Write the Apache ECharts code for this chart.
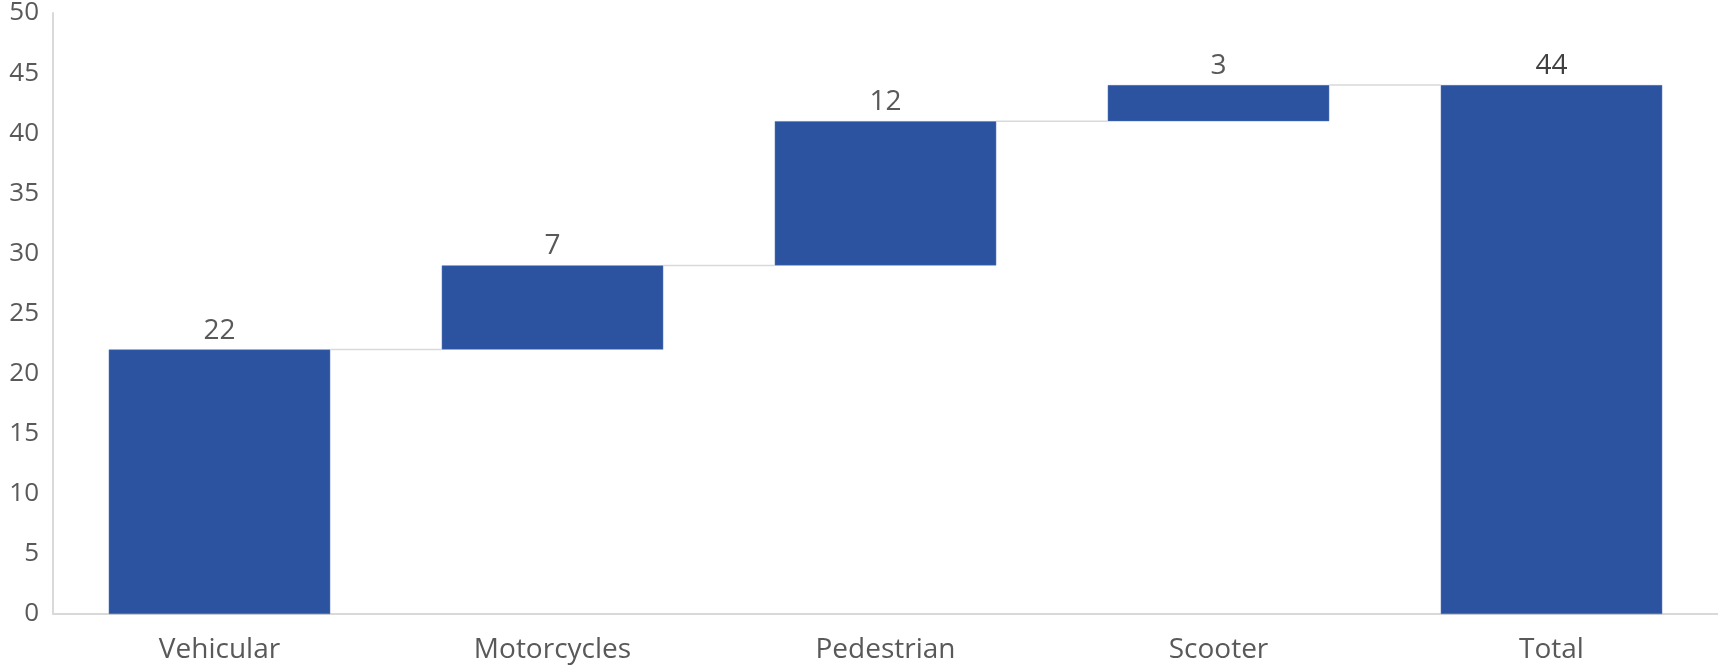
<!DOCTYPE html>
<html>
<head>
<meta charset="utf-8">
<script src="https://cdn.jsdelivr.net/npm/echarts@6/dist/echarts.min.js"></script>
<style>html,body{margin:0;padding:0;background:#fff}#c{width:1718px;height:671px}</style>
</head>
<body>
<div id="c"></div>
<script>
const categories = ['Vehicular', 'Motorcycles', 'Pedestrian', 'Scooter', 'Total'];
const deltas = [22, 7, 12, 3];
const yTicks = [0, 5, 10, 15, 20, 25, 30, 35, 40, 45, 50];

const total = deltas.reduce((a, b) => a + b, 0);
const baseVals = [];
const barVals = [];
let run = 0;
deltas.forEach(d => { baseVals.push(run); barVals.push(d); run += d; });
baseVals.push(0); barVals.push(total);
const levels = baseVals.map((b, i) => b + barVals[i]);
const connData = levels.slice(0, -1).map((v, i) => [i, v]);

const chart = echarts.init(document.getElementById('c'), null, {renderer: 'canvas'});
const font = '"Open Sans", "Noto Sans", sans-serif';
chart.setOption({
  animation: false,
  grid: {left: 53, right: -2, top: 12, bottom: 57, containLabel: false},
  xAxis: {
    type: 'category', data: categories,
    axisLine: {lineStyle: {color: '#d9d9d9', width: 2}},
    axisTick: {show: false},
    axisLabel: {color: '#595959', fontSize: 28, fontFamily: font, margin: 22}
  },
  yAxis: {
    type: 'value', min: 0, max: 50, interval: 5,
    axisLine: {show: true, lineStyle: {color: '#d9d9d9', width: 2}},
    axisTick: {show: false},
    splitLine: {show: false},
    axisLabel: {color: '#595959', fontSize: 26, fontFamily: font, margin: 14,
      formatter: v => yTicks.includes(v) ? String(v) : ''}
  },
  series: [
    {
      type: 'custom', z: 1,
      data: connData,
      renderItem: (params, api) => {
        const i = api.value(0), v = api.value(1);
        const p1 = api.coord([i, v]);
        const p2 = api.coord([i + 1, v]);
        const w = api.size([1, 0])[0] * 0.665 / 2;
        return {type: 'line', shape: {x1: p1[0] + w, y1: p1[1], x2: p2[0] - w, y2: p2[1]},
          style: {stroke: '#d9d9d9', lineWidth: 1.5}};
      }
    },
    {
      type: 'bar', stack: 'w', data: baseVals, barWidth: '66.5%',
      itemStyle: {color: 'transparent'}, silent: true, z: 2
    },
    {
      type: 'bar', stack: 'w', barWidth: '66.5%', z: 3,
      data: barVals.map((v, i) => ({value: v, label: {color: i === barVals.length - 1 ? '#404040' : '#595959'}})),
      itemStyle: {color: '#2B53A0', borderColor: '#4a6db5', borderWidth: 0.5},
      label: {show: true, position: 'top', fontSize: 28, fontFamily: font, distance: 5}
    }
  ]
});
</script>
</body>
</html>
